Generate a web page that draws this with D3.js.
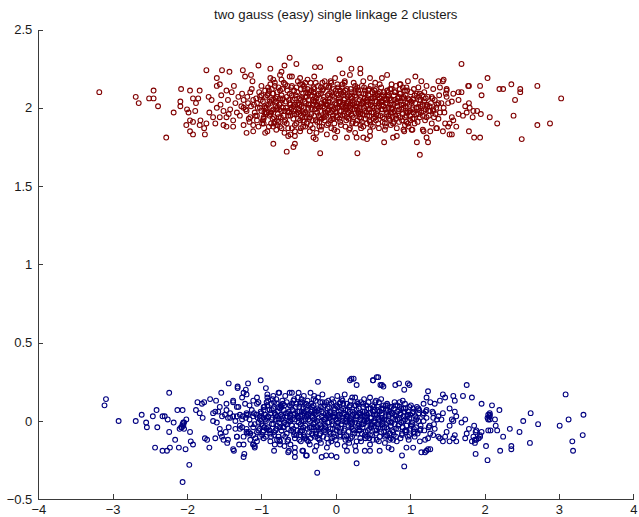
<!DOCTYPE html>
<html>
<head>
<meta charset="utf-8">
<script src="https://cdn.jsdelivr.net/npm/d3@7"></script>
<style>
  html, body { margin: 0; padding: 0; background: #fff; }
  svg { display: block; }
  .axis text { font-family: "Liberation Sans", Arial, Helvetica, sans-serif; font-size: 13px; fill: #1a1a1a; }
  .axis path, .axis line { stroke: #3a3a3a; stroke-width: 1; shape-rendering: crispEdges; }
  .title { font-family: "Liberation Sans", Arial, Helvetica, sans-serif; font-size: 13.2px; fill: #1a1a1a; }
</style>
</head>
<body>
<svg id="chart" width="639" height="517"></svg>
<script>
// Chart title and axis ticks
const titleText = "two gauss (easy) single linkage 2 clusters";
const xTicks = [-4, -3, -2, -1, 0, 1, 2, 3, 4];
const yTicks = [-0.5, 0, 0.5, 1, 1.5, 2, 2.5];
const xDomain = [-4, 4];
const yDomain = [-0.5, 2.5];

// Cluster 1 (upper gaussian), [x, y]
const cluster1 = [
  [-3.18,2.10],[-2.69,2.07],[-2.65,2.03],[-2.45,2.11],[-2.51,2.06],[-2.45,2.06],[-2.39,2.01],[-2.28,1.81],
  [-2.18,1.97],[-2.08,2.12],[-2.09,2.04],[-2.09,2.01],[-1.96,2.11],[-1.83,2.11],[-1.74,2.24],[-1.60,2.19],
  [-1.53,2.24],[-1.43,2.23],[-1.25,2.24],[-1.22,2.20],[-1.14,2.21],[-1.12,2.17],[-1.04,2.27],[-0.88,2.25],
  [-0.84,1.77],[-0.62,2.32],[-0.53,2.28],[-0.73,2.23],[-0.69,2.27],[-0.59,2.20],[-0.28,2.26],[-0.29,2.20],
  [-0.38,2.18],[0.05,2.31],[-0.21,2.26],[0.09,2.22],[0.21,2.25],[0.19,2.21],[0.33,2.25],[0.33,2.22],
  [0.69,2.21],[1.69,2.28],[2.04,2.19],[2.36,2.15],[2.71,2.14],[3.03,2.06],[2.88,1.90],[2.71,1.89],
  [2.50,1.80],[2.39,1.95],[2.41,2.05],[2.48,2.12],[2.48,2.10],[2.20,2.12],[2.25,2.12],[1.94,2.14],
  [1.96,2.08],[1.79,2.14],[2.07,1.94],[2.17,1.90],[1.79,1.85],[1.86,1.81],[1.94,1.81],[1.38,2.17],
  [1.45,2.18],[1.15,2.17],[1.07,2.20],[0.97,2.17],[0.87,2.15],
  [-2.00,1.99],[-1.98,1.97],[-1.89,1.98],[-1.88,2.03],[-1.92,2.06],[-1.85,2.06],[-1.96,1.92],[-2.01,1.89],
  [-1.92,1.91],[-1.82,1.92],[-1.83,1.89],[-1.74,1.90],[-1.96,1.85],[-1.92,1.83],[-1.76,1.83],[-1.77,1.87],
  [-1.65,1.94],[-1.56,1.94],[-1.62,1.90],[-1.51,1.89],[-1.47,1.88],[-1.38,1.88],[-1.20,1.84],[-1.11,1.85],
  [-0.95,1.84],[-1.71,2.07],[-1.67,2.05],[-1.60,2.14],[-1.56,2.15],[-1.47,2.11],[-1.40,2.10],[-1.37,2.14],
  [-1.31,2.07],[-1.24,2.05],[-1.15,2.10],[-1.11,2.05],[-1.06,2.03],[-1.00,2.14],[-0.95,2.11],[-0.88,2.15],
  [-0.84,2.18],[-1.60,2.00],[-1.51,1.98],[-1.42,1.99],[-1.33,1.97],[-1.29,1.95],[-1.24,2.00],[-1.20,1.98],
  [-1.47,1.94],[-1.38,1.92],[-1.15,1.94],[-1.06,1.92],[-0.97,1.94],[-0.88,1.96],[-0.82,1.91],[-1.11,1.89],
  [-1.24,1.89],[-0.93,2.00],[-0.86,2.05],[-0.79,2.07],[-1.02,2.07],[-0.91,2.09],
  [-0.66,1.72],[-0.57,1.75],[-0.55,1.77],[-0.21,1.71],[0.29,1.71],[0.65,1.78],[1.13,1.70],[1.09,1.78],
  [1.22,1.81],[1.24,1.78],[-0.30,1.81],[-0.27,1.80],[-0.01,1.81],[0.15,1.81],[0.28,1.81],[0.37,1.81],
  [0.42,1.80],[0.46,1.82],[0.77,1.81],[0.82,1.82],[0.91,1.86],[1.02,1.86],[1.18,1.85],[1.27,1.85],
  [1.36,1.87],[1.44,1.85],[1.56,1.83],[1.62,1.88],[-0.84,1.88],[-0.97,1.90],[-0.79,1.92],[-0.75,1.88],
  [-0.64,1.82],[-0.59,1.87],[-0.55,1.85],[-0.48,1.85],[-0.44,1.88],[-0.39,1.90],
  [-0.88,2.19],[-0.82,2.16],[-0.75,2.21],[-0.73,2.18],[-0.62,2.20],[-0.48,2.19],[-0.41,2.16],[-0.15,2.17],
  [-0.06,2.16],[-0.01,2.19],[0.12,2.17],[0.24,2.16],[0.37,2.17],[0.46,2.19],[0.53,2.16],[0.62,2.19],
  [0.75,2.15],[0.86,2.15],[0.95,2.13],[1.11,2.13],[1.22,2.14],[1.31,2.12],[1.40,2.13],[1.49,2.11],
  [1.58,2.09],[1.44,2.17],[1.49,2.12],[1.65,2.10],[1.69,2.10],[1.78,2.14],[1.48,2.09],[1.49,2.07],
  [1.56,2.04],[1.51,2.03],[1.42,2.03],[1.40,1.97],[1.74,2.01],[1.79,2.03],[1.80,2.00],[1.85,1.98],
  [1.90,1.98],[1.95,1.96],[1.65,1.96],[1.71,1.95],[1.76,1.97],[1.56,1.94],[1.58,1.92],[1.53,1.90],
  [1.47,1.90],[1.51,1.88],[1.53,1.83],[1.84,1.94],[1.35,1.87],[1.17,1.86],[1.03,1.86],[0.92,1.85],
  [1.65,2.05],[1.04,2.05],[1.13,2.09],[1.00,1.98],[1.22,1.94],[1.31,1.98],[1.38,2.03],[1.29,2.07],[0.95,1.91],
  [-0.91,2.02],[-0.89,1.95],[-0.92,2.08],[-0.90,1.88],[-0.86,2.12],[-0.84,1.99],[-0.85,1.93],[-0.83,2.05],
  [-0.81,2.01],[-0.79,2.10],[-0.80,1.86],[-0.78,1.96],[-0.82,2.14],[-0.76,1.99],[-0.75,2.06],[-0.77,1.91],
  [-0.74,2.03],[-0.72,2.12],[-0.70,1.95],[-0.71,2.00],[-0.69,1.84],[-0.73,2.08],[-0.67,2.04],[-0.66,1.90],
  [-0.68,2.15],[-0.65,1.98],[-0.63,1.97],[-0.62,2.09],[-0.64,1.87],[-0.61,2.02],[-0.60,2.13],[-0.58,2.05],
  [-0.57,1.93],[-0.59,2.00],[-0.56,2.11],[-0.55,1.89],[-0.54,2.08],[-0.53,1.96],[-0.52,2.02],[-0.55,1.82],
  [-0.51,2.17],[-0.50,1.99],[-0.49,2.06],[-0.48,1.92],[-0.47,2.12],[-0.50,2.03],[-0.46,2.01],[-0.45,1.94],
  [-0.44,2.09],[-0.47,1.87],[-0.43,2.14],[-0.45,1.98],[-0.42,2.04],[-0.41,1.97],[-0.40,2.10],[-0.43,1.91],
  [-0.39,2.07],[-0.37,2.00],[-0.36,1.93],[-0.38,2.12],[-0.35,1.85],[-0.37,2.05],[-0.34,2.16],[-0.33,1.96],
  [-0.32,2.08],[-0.31,2.02],[-0.34,1.89],[-0.30,2.13],[-0.29,2.04],[-0.28,1.99],[-0.27,1.92],[-0.30,2.10],
  [-0.26,1.84],[-0.28,2.07],[-0.25,2.01],[-0.24,2.14],[-0.23,1.95],[-0.26,2.06],[-0.22,1.88],[-0.21,1.98],
  [-0.20,2.09],[-0.19,2.03],[-0.22,1.91],[-0.18,2.16],[-0.20,1.86],[-0.17,2.05],[-0.16,1.94],[-0.15,2.00],
  [-0.18,2.11],[-0.14,1.97],[-0.13,2.02],[-0.12,1.89],[-0.11,2.08],[-0.14,1.96],[-0.10,2.13],[-0.12,1.83],
  [-0.09,1.99],[-0.08,2.06],[-0.07,1.92],[-0.10,2.04],[-0.06,2.10],[-0.05,2.01],[-0.04,1.95],[-0.03,2.12],
  [-0.06,1.87],[-0.02,2.07],[-0.04,1.98],[-0.01,2.03],[0.00,1.97],[0.01,2.09],[-0.02,1.90],[0.02,2.15],
  [0.03,2.00],[0.04,2.06],[0.05,1.93],[0.02,1.85],[0.06,2.11],[0.04,2.04],[0.07,1.98],[0.08,2.13],
  [0.09,2.02],[0.06,1.91],[0.10,2.08],[0.11,2.05],[0.12,1.95],[0.13,1.88],[0.10,2.10],[0.14,2.01],
  [0.12,2.16],[0.15,1.99],[0.16,2.07],[0.17,1.93],[0.14,2.03],[0.18,1.86],[0.19,2.02],[0.20,2.12],
  [0.21,1.96],[0.18,2.08],[0.22,1.90],[0.20,2.00],[0.23,2.04],[0.24,1.94],[0.25,2.10],[0.22,1.99],
  [0.26,1.84],[0.27,2.01],[0.28,2.07],[0.29,1.92],[0.26,2.14],[0.30,1.97],[0.31,1.98],[0.32,2.05],
  [0.33,1.89],[0.30,2.11],[0.34,2.02],[0.32,1.94],[0.35,2.03],[0.36,1.96],[0.37,2.09],[0.34,1.87],
  [0.38,2.00],[0.39,2.06],[0.40,1.93],[0.41,2.01],[0.38,2.13],[0.42,1.90],[0.43,1.99],[0.44,2.08],
  [0.45,1.95],[0.42,2.04],[0.46,1.85],[0.44,2.11],[0.47,2.02],[0.48,1.97],[0.49,2.10],[0.46,1.91],
  [0.50,2.06],[0.51,2.00],[0.52,2.07],[0.53,1.94],[0.50,1.88],[0.54,2.12],[0.55,2.04],[0.56,1.98],
  [0.57,2.09],[0.54,1.92],[0.58,2.01],[0.59,2.06],[0.60,1.95],[0.61,2.13],[0.58,1.87],[0.62,2.02],
  [0.63,1.99],[0.64,2.08],[0.65,1.93],[0.62,2.04],[0.66,1.90],[0.67,2.03],[0.68,1.96],[0.69,2.11],
  [0.66,1.86],[0.70,2.07],[0.71,2.00],[0.72,2.06],[0.73,1.92],[0.70,2.10],[0.74,1.97],[0.75,2.05],
  [0.76,1.94],[0.77,2.02],[0.74,1.89],[0.78,2.08],[0.79,1.98],[0.80,2.10],[0.81,2.03],[0.78,1.91],
  [0.83,2.01],[0.84,1.95],[0.85,2.07],[0.82,1.87],[0.86,2.12],[0.87,2.04],[0.88,1.99],[0.89,1.92],
  [0.86,2.09],[0.91,2.00],[0.92,2.06],[0.93,1.94],[0.90,2.13],[0.95,1.97],[0.96,2.03],[0.97,1.90],
  [0.94,2.08],[0.99,2.02],[1.00,1.95],[1.01,2.10],[0.98,1.88],[1.03,1.99],[1.04,2.06],[1.05,1.93],
  [1.07,2.03],[1.08,1.96],[1.09,2.09],[1.06,1.90],[1.11,2.00],[1.12,2.05],[1.13,1.94],[1.15,1.97],
  [1.16,2.08],[1.17,2.02],[1.19,2.04],[1.20,1.92],[1.21,1.99],[1.23,2.01],[1.24,2.07],[1.25,1.95],
  [1.27,1.98],[1.28,2.03],[1.29,1.90],[1.33,2.05],[1.34,1.96],[1.35,2.00],[1.38,1.93],[1.39,2.08],
  [1.45,2.00],[1.46,1.97],[-0.95,2.00],[-0.96,1.97],[-1.00,1.98],[-1.01,2.05],[-0.99,1.90],[-1.05,2.00],
  [-1.06,1.95],[-1.10,2.02],[-1.09,1.97],[-1.18,2.03],[-1.17,1.93],[-1.27,2.01],[-1.26,2.09],[-1.35,2.03],
  [-1.45,2.05],[-1.44,1.96],[-1.55,2.02],[-1.54,2.08],[-1.70,1.97],
  [-1.21,1.99],[-1.19,2.07],[-1.16,1.91],[-1.14,2.01],[-1.13,2.12],[-1.08,1.95],[-1.07,2.06],[-1.04,1.88],
  [-1.03,2.10],[-1.02,2.00],[-0.98,2.04],[-0.97,1.93],[-0.94,2.07],[-0.93,1.97],[-0.92,1.85],[-0.90,2.11],
  [-0.88,2.03],[-0.87,1.90],[-0.86,1.98],[-0.84,2.09],[-0.83,1.94],[-0.81,2.06],[-0.80,1.99],[-0.79,1.89],
  [-0.77,2.13],[-0.76,2.02],[-0.74,1.94],[-0.73,1.87],[-0.72,2.05],[-0.70,2.16],[-0.69,1.98],[-0.68,1.92],
  [-0.66,2.07],[-0.65,2.11],[-0.64,1.95],[-0.62,2.03],[-0.61,1.83],[-0.60,1.99],[-0.59,2.14],[-0.57,2.01],
  [-0.56,1.96],[-0.55,2.06],[-0.53,1.90],[-0.52,2.10],[-0.51,1.97],[-0.49,2.02],[-0.48,2.15],[-0.47,1.95],
  [-0.46,2.07],[-0.44,1.92],[-0.43,2.00],[-0.42,2.12],[-0.41,1.88],[-0.40,2.03],[-0.38,1.96],[-0.37,2.09],
  [-0.36,2.02],[-0.35,1.94],[-0.33,2.11],[-0.32,1.99],[-0.31,1.87],[-0.30,2.05],[-0.29,1.95],[-0.27,2.16],
  [-0.26,2.02],[-0.25,1.91],[-0.24,2.08],[-0.23,2.00],[-0.21,1.94],[-0.20,2.13],[-0.19,1.88],[-0.17,2.01],
  [-0.16,2.07],[-0.15,1.92],[-0.14,2.04],[-0.13,2.14],[-0.11,1.98],[-0.10,1.90],[-0.09,2.09],[-0.08,2.01],
  [-0.07,2.17],[-0.05,1.93],[-0.04,2.05],[-0.03,1.99],[-0.02,1.86],[0.00,2.11],[0.01,2.02],[0.02,1.94],
  [0.03,2.08],[0.05,1.98],[0.06,2.04],[0.07,1.89],[0.08,2.01],[0.09,2.15],[0.11,1.96],[0.12,2.06],
  [0.13,2.00],[0.14,1.92],[0.15,2.12],[0.16,2.03],[0.17,1.97],[0.19,1.87],[0.20,2.07],[0.21,2.10],
  [0.22,1.95],[0.23,2.02],[0.25,1.99],[0.26,2.08],[0.27,1.90],[0.28,2.03],[0.29,2.13],[0.31,1.96],
  [0.32,2.00],[0.33,2.07],[0.34,1.93],[0.35,2.14],[0.36,2.04],[0.37,1.88],[0.39,1.98],[0.40,2.09],
  [0.41,2.05],[0.42,1.95],[0.43,2.02],[0.45,2.12],[0.46,1.99],[0.47,1.89],[0.48,2.06],[0.49,2.01],
  [0.51,1.93],[0.52,2.11],[0.53,2.04],[0.55,1.96],[0.56,2.08],[0.57,1.90],[0.58,2.03],[0.59,2.15],
  [0.61,1.99],[0.62,2.07],[0.63,1.94],[0.64,2.01],[0.65,2.10],[0.67,1.88],[0.68,2.05],[0.69,1.97],
  [0.71,2.08],[0.72,1.93],[0.73,2.02],[0.75,2.12],[0.76,1.99],[0.77,1.90],[0.79,2.05],[0.80,1.95],
  [0.81,2.14],[0.83,2.06],[0.84,1.98],[0.85,1.91],[0.87,2.09],[0.88,2.02],[0.90,1.96],[0.91,2.07],
  [0.93,1.89],[0.94,2.01],[0.96,2.11],[0.97,1.97],[0.99,2.05],[1.00,1.92],[1.02,2.03],[1.04,1.97],
  [1.05,2.12],[1.08,2.00],[1.10,1.91],[1.12,2.07],[1.14,2.01],[1.17,1.95],[1.19,2.10],[1.22,2.02],
  [1.25,1.98],[1.30,2.06],[1.32,1.94],[1.36,2.02],
  [-1.00,2.08],[-0.98,1.92],[-0.96,2.01],[-0.94,1.96],[-0.91,2.13],[-0.89,2.04],[-0.87,1.97],[-0.85,2.09],
  [-0.83,1.90],[-0.81,2.04],[-0.79,2.00],[-0.77,1.94],[-0.75,2.11],[-0.73,1.98],[-0.71,2.06],[-0.69,1.91],
  [-0.67,2.00],[-0.65,2.14],[-0.63,2.05],[-0.61,1.95],[-0.59,2.08],[-0.57,1.98],[-0.55,2.02],[-0.53,2.13],
  [-0.51,1.93],[-0.49,1.98],[-0.47,2.05],[-0.45,2.15],[-0.43,1.96],[-0.41,2.07],[-0.39,1.94],[-0.37,2.02],
  [-0.35,2.10],[-0.33,2.00],[-0.31,1.92],[-0.29,2.12],[-0.27,2.04],[-0.25,1.97],[-0.23,2.09],[-0.21,2.01],
  [-0.19,1.93],[-0.17,2.12],[-0.15,2.04],[-0.13,1.95],[-0.11,2.02],[-0.09,2.14],[-0.07,1.97],[-0.05,2.08],
  [-0.03,1.93],[-0.01,2.00],[0.01,1.95],[0.03,2.13],[0.05,2.03],[0.07,2.09],[0.09,1.95],[0.11,2.00],
  [0.13,2.11],[0.15,1.94],[0.17,2.04],[0.19,1.98],[0.21,2.06],[0.23,1.91],[0.25,2.03],[0.27,2.12],
  [0.29,1.99],[0.31,2.09],[0.33,1.96],[0.35,1.91],[0.37,2.03],[0.39,2.11],[0.41,1.97],[0.43,2.06],
  [0.45,1.92],[0.47,2.14],[0.49,2.04],[0.51,1.97],[0.53,2.09],[0.55,2.00],[0.57,1.95],[0.59,2.10],
  [0.61,2.04],[0.63,1.91],[0.65,2.06],[0.67,1.99],[0.69,2.03],[0.71,1.95],[0.73,2.12],[0.75,2.00],
  [0.77,1.97],[0.79,2.10],[0.81,1.93],[0.83,2.04],[0.85,1.99],[0.87,1.94],[0.89,2.06],[0.91,2.02],
  [0.93,2.11],[0.95,1.95],[0.97,2.06],[0.99,1.98],[1.01,2.04],[1.03,1.93],[1.06,2.08],[1.09,2.00],
  [1.11,1.96],[1.14,2.05],[1.18,1.98],[1.21,2.06],[1.26,2.01],[1.31,1.99]
];

// Cluster 2 (lower gaussian), [x, y]
const cluster2 = [
  [-3.09,0.14],[-3.11,0.10],[-2.92,0.00],[-2.69,0.00],[-2.61,0.04],[-2.55,-0.01],[-2.54,-0.04],[-2.46,0.03],
  [-2.41,0.07],[-2.40,-0.04],[-2.43,-0.17],[-2.33,-0.19],[-2.27,-0.19],[-2.23,-0.17],[-2.33,0.03],[-2.30,0.03],
  [-2.26,0.01],[-2.24,0.18],[-2.24,-0.07],[-2.18,-0.01],[-2.16,-0.12],[-2.13,0.07],[-2.06,0.07],[-2.11,-0.17],
  [-2.02,-0.18],[-2.08,-0.04],[-2.05,-0.03],[-2.04,-0.01],[-2.06,-0.02],[-2.01,0.01],[-1.96,-0.07],[-1.97,-0.28],
  [-2.06,-0.39],[-1.95,-0.13],[-1.92,-0.15],[-2.05,-0.01],[-2.07,-0.04],[-2.04,-0.05],[-2.10,-0.05],
  [-1.88,0.07],[-1.86,0.12],[-1.83,0.05],[-1.80,0.11],[-1.79,0.02],[-1.77,0.12],[-1.76,-0.11],[-1.73,-0.12],
  [-1.70,-0.17],[-1.65,0.05],[-1.65,0.00],[-1.62,0.06],[-1.60,-0.01],[-1.61,0.13],[-1.62,-0.11],[-1.55,-0.08],
  [-1.54,0.18],[-1.56,0.09],[-1.45,-0.12],[-1.38,-0.18],[-1.35,-0.05],[-1.32,0.21],[-1.44,0.24],[-1.24,0.18],
  [-1.18,0.24],[-1.21,0.20],[-1.20,0.17],[-1.23,-0.21],[-1.24,-0.23],[-1.01,0.26],[-0.94,0.21],[-0.92,0.17],
  [-0.83,-0.19],[-0.63,-0.19],[-0.55,-0.20],[-0.55,-0.23],[-0.44,-0.19],[-0.40,-0.22],[-0.25,-0.33],[-0.24,0.25],
  [-1.47,0.07],[-1.42,0.02],[-1.38,0.03],[-1.29,0.04],[-1.20,0.05],[-1.18,0.04],[-1.29,-0.03],[-1.33,-0.10],
  [-1.20,-0.07],[-1.11,-0.04],[-1.11,-0.09],[-1.11,-0.15],[-1.09,-0.17],[-1.02,-0.10],[-0.93,-0.05],[-0.88,-0.08],
  [-0.86,0.01],[-0.79,-0.12],[-0.75,-0.15],[-0.71,-0.04],[-0.66,0.03],[-0.62,0.18],[-0.57,0.13],[-0.50,0.18],
  [-0.48,0.11],[-0.46,0.06],[-0.39,0.03],[-0.32,0.07],[-0.30,-0.04],[-0.28,-0.10],[-0.39,-0.12],[-0.48,-0.07],
  [-1.06,0.15],[-0.97,0.09],[-0.91,0.13],[-0.77,0.18],[-0.71,0.11],[-0.82,0.05],[-0.97,0.02],[-1.04,-0.01],
  [-1.38,0.13],[-1.31,0.09],[-1.53,0.03],[-1.69,0.14],[-1.32,0.22],[-1.53,-0.10],[-1.48,-0.07],[-1.51,-0.12],
  [-1.46,-0.14],[-1.37,-0.19],[-1.30,-0.15],[-1.24,-0.15],[-1.47,0.11],[-1.38,0.12],[-1.33,0.09],[-1.26,0.15],
  [-1.22,0.11],[-1.11,0.13],[-1.06,0.11],[-0.93,0.12],[-1.49,0.04],[-1.42,0.05],[-1.33,0.03],[-1.26,0.01],
  [-1.20,0.04],[-1.11,0.03],[-1.02,0.01],[-0.95,0.04],[-1.29,-0.05],[-1.20,-0.05],[-1.15,-0.08],[-1.06,-0.07],
  [-0.97,-0.06],[-1.33,-0.10],[-1.24,-0.10],[-1.15,-0.12],[-1.06,-0.13],[-0.97,-0.11],
  [0.28,-0.27],[0.92,-0.29],[0.21,0.27],[0.24,0.27],[0.50,0.26],[0.57,0.28],[0.28,0.23],[0.60,0.23],
  [0.64,0.22],[0.80,0.23],[0.85,0.24],[0.97,0.24],[0.99,0.23],[1.76,0.23],[3.09,0.17],[3.33,0.04],
  [3.13,0.01],[3.01,-0.03],[3.32,-0.09],[3.18,-0.13],[3.19,-0.19],[2.72,-0.02],[2.62,0.05],[2.61,-0.14],
  [2.52,0.00],[2.47,-0.07],[2.34,-0.05],[2.36,-0.16],[2.36,-0.18],[2.25,-0.10],[2.21,-0.19],[2.20,0.07],
  [2.10,0.10],[1.96,0.11],[1.83,0.15],[1.71,0.16],[2.04,-0.25],[1.88,-0.21],[2.02,-0.16],[2.05,0.04],
  [2.07,0.04],[2.04,0.02],[2.07,0.01],[2.15,-0.03],[2.17,-0.06],[2.08,-0.06],[2.05,-0.06],[1.96,-0.07],
  [1.89,-0.06],[1.94,-0.09],[1.89,-0.12],[1.87,-0.14],[1.83,-0.13],[2.14,0.01],[2.07,0.03],[2.05,0.01],
  [2.07,0.05],[1.94,-0.10],[1.92,-0.11],[1.87,-0.12],[1.85,-0.10],[1.88,-0.07],[1.86,-0.03],[1.79,-0.05],
  [1.76,-0.08],[1.74,-0.11],[1.69,-0.01],[1.74,0.01],[1.58,0.16],[1.60,0.13],[1.44,0.17],[1.47,0.15],
  [1.40,0.13],[1.33,0.11],[1.27,0.12],[1.22,0.15],[1.24,0.19],[1.18,0.11],[1.53,0.08],[1.60,0.06],
  [1.62,0.03],[1.56,0.01],[1.53,-0.03],[1.58,0.00],[1.44,0.05],[1.42,0.01],[1.38,0.03],[1.31,0.05],
  [1.22,0.07],[1.18,0.05],[1.33,-0.05],[1.31,-0.09],[1.38,-0.10],[1.27,-0.08],[1.24,-0.11],[1.49,-0.07],
  [1.47,-0.10],[1.60,-0.09],[1.58,-0.11],[1.62,-0.13],[1.53,-0.13],[1.44,-0.13],[1.40,-0.11],[1.22,-0.19],
  [1.27,-0.18],[1.15,-0.20],[1.20,-0.12],
  [0.19,0.26],[0.55,0.28],[0.50,0.26],[0.62,0.23],[0.92,0.20],[-0.84,0.16],[-0.76,0.18],[-0.59,0.18],
  [-0.75,-0.13],[-0.64,-0.20],[-0.45,-0.19],[-0.39,-0.22],[-0.28,-0.19],[-0.19,-0.23],[-0.13,-0.22],[-0.06,-0.22],
  [0.01,-0.23],[0.12,-0.16],[0.15,-0.19],[0.27,-0.19],[0.39,-0.19],[0.46,-0.19],[0.59,-0.19],[0.71,-0.17],
  [0.75,-0.18],[0.89,-0.22],[0.95,-0.17],[1.04,-0.17],[1.13,-0.13],[1.20,-0.20],[1.24,-0.18],[-1.11,-0.15],
  [-1.09,-0.16],
  [-0.91,0.03],[-0.89,-0.06],[-0.92,0.10],[-0.88,-0.13],[-0.86,0.07],[-0.84,-0.02],[-0.85,0.14],[-0.83,-0.09],
  [-0.81,0.01],[-0.79,0.11],[-0.80,-0.05],[-0.78,0.06],[-0.82,-0.15],[-0.76,-0.01],[-0.75,0.08],[-0.77,-0.10],
  [-0.74,0.04],[-0.72,0.13],[-0.70,-0.04],[-0.71,0.02],[-0.69,-0.16],[-0.73,0.09],[-0.67,0.05],[-0.66,-0.08],
  [-0.68,0.16],[-0.65,-0.02],[-0.63,0.00],[-0.62,0.10],[-0.64,-0.12],[-0.61,0.04],[-0.60,-0.06],[-0.58,0.07],
  [-0.57,-0.07],[-0.59,0.01],[-0.56,0.14],[-0.55,-0.11],[-0.54,0.09],[-0.53,-0.03],[-0.52,0.03],[-0.55,-0.17],
  [-0.51,0.15],[-0.50,-0.01],[-0.49,0.06],[-0.48,-0.09],[-0.47,0.12],[-0.50,0.02],[-0.46,0.00],[-0.45,-0.06],
  [-0.44,0.08],[-0.47,-0.13],[-0.43,0.16],[-0.45,0.04],[-0.42,0.05],[-0.41,-0.03],[-0.40,0.11],[-0.43,-0.09],
  [-0.39,0.07],[-0.37,0.01],[-0.36,-0.07],[-0.38,0.13],[-0.35,-0.15],[-0.37,0.04],[-0.34,0.18],[-0.33,-0.04],
  [-0.32,0.09],[-0.31,0.02],[-0.34,-0.11],[-0.30,0.14],[-0.29,0.05],[-0.28,-0.01],[-0.27,-0.08],[-0.30,0.10],
  [-0.26,-0.16],[-0.28,0.07],[-0.25,0.00],[-0.24,0.15],[-0.23,-0.05],[-0.26,0.06],[-0.22,-0.12],[-0.21,-0.02],
  [-0.20,0.09],[-0.19,0.03],[-0.22,-0.09],[-0.18,0.17],[-0.20,-0.14],[-0.17,0.05],[-0.16,-0.06],[-0.15,0.01],
  [-0.18,0.12],[-0.14,-0.03],[-0.13,0.02],[-0.12,-0.11],[-0.11,0.08],[-0.14,-0.04],[-0.10,0.13],[-0.12,-0.17],
  [-0.09,-0.01],[-0.08,0.06],[-0.07,-0.08],[-0.10,0.04],[-0.06,0.11],[-0.05,0.00],[-0.04,-0.05],[-0.03,0.12],
  [-0.06,-0.13],[-0.02,0.07],[-0.04,-0.02],[-0.01,0.03],[0.00,-0.03],[0.01,0.10],[-0.02,-0.10],[0.02,0.16],
  [0.03,-0.01],[0.04,0.06],[0.05,-0.07],[0.02,-0.15],[0.06,0.12],[0.04,0.04],[0.07,-0.02],[0.08,0.14],
  [0.09,0.02],[0.06,-0.09],[0.10,0.08],[0.11,0.05],[0.12,-0.05],[0.13,-0.12],[0.10,0.11],[0.14,0.01],
  [0.12,0.17],[0.15,-0.01],[0.16,0.07],[0.17,-0.07],[0.14,0.03],[0.18,-0.14],[0.19,0.02],[0.20,0.13],
  [0.21,-0.04],[0.18,0.09],[0.22,-0.10],[0.20,0.00],[0.23,0.04],[0.24,-0.06],[0.25,0.10],[0.22,-0.01],
  [0.26,-0.16],[0.27,0.01],[0.28,0.07],[0.29,-0.08],[0.26,0.15],[0.30,-0.03],[0.31,-0.02],[0.32,0.05],
  [0.33,-0.11],[0.30,0.11],[0.34,0.02],[0.32,-0.06],[0.35,0.03],[0.36,-0.04],[0.37,0.09],[0.34,-0.13],
  [0.38,0.00],[0.39,0.06],[0.40,-0.07],[0.41,0.01],[0.38,0.14],[0.42,-0.10],[0.43,-0.01],[0.44,0.08],
  [0.45,-0.05],[0.42,0.04],[0.46,-0.15],[0.44,0.12],[0.47,0.02],[0.48,-0.03],[0.49,0.10],[0.46,-0.09],
  [0.50,0.06],[0.51,0.00],[0.52,0.07],[0.53,-0.06],[0.50,-0.12],[0.54,0.13],[0.55,0.04],[0.56,-0.02],
  [0.57,0.09],[0.54,-0.08],[0.58,0.01],[0.59,0.06],[0.60,-0.05],[0.61,0.14],[0.58,-0.13],[0.62,0.02],
  [0.63,-0.01],[0.64,0.08],[0.65,-0.07],[0.62,0.04],[0.66,-0.10],[0.67,0.03],[0.68,-0.04],[0.69,0.11],
  [0.66,-0.14],[0.70,0.07],[0.71,0.00],[0.72,0.06],[0.73,-0.08],[0.70,0.10],[0.74,-0.03],[0.75,0.05],
  [0.76,-0.06],[0.77,0.02],[0.74,-0.11],[0.78,0.08],[0.79,-0.02],[0.80,0.10],[0.81,0.03],[0.78,-0.09],
  [0.83,0.01],[0.84,-0.05],[0.85,0.07],[0.82,-0.13],[0.86,0.12],[0.87,0.04],[0.88,-0.01],[0.89,-0.08],
  [0.86,0.09],[0.91,0.00],[0.92,0.06],[0.93,-0.06],[0.90,0.13],[0.95,-0.03],[0.96,0.03],[0.97,-0.10],
  [0.94,0.08],[0.99,0.02],[1.00,-0.05],[1.01,0.10],[0.98,-0.12],[1.03,-0.01],[1.04,0.06],[1.05,-0.07],
  [1.07,0.03],[1.08,-0.04],[1.09,0.09],[1.06,-0.10],[1.11,0.00],[1.12,0.05],[1.13,-0.06],[-0.95,0.01],
  [-0.96,-0.04],[-1.00,-0.02],[-1.01,0.06],[-0.99,-0.09],[-1.05,0.02],[-1.04,-0.06],[-1.10,0.05],[-1.09,-0.02],
  [-1.16,0.01],[-1.17,-0.07],[-1.25,0.03],[-1.26,-0.04],[-1.35,0.00],[-1.45,0.02],[-1.44,-0.04],[-1.56,-0.05],
  [-1.58,0.06],
  [-1.21,0.02],[-1.19,-0.08],[-1.16,0.10],[-1.14,-0.02],[-1.13,0.07],[-1.08,-0.11],[-1.07,0.04],[-1.04,0.12],
  [-1.03,-0.05],[-1.02,0.03],[-0.98,-0.03],[-0.97,0.07],[-0.94,-0.10],[-0.93,0.02],[-0.92,0.15],[-0.90,-0.06],
  [-0.88,0.05],[-0.87,0.11],[-0.86,-0.02],[-0.84,0.08],[-0.83,-0.07],[-0.81,0.04],[-0.80,0.14],[-0.79,-0.03],
  [-0.77,0.01],[-0.76,-0.12],[-0.74,0.10],[-0.73,-0.06],[-0.72,0.03],[-0.70,0.07],[-0.69,-0.01],[-0.68,-0.10],
  [-0.66,0.12],[-0.65,0.05],[-0.64,-0.05],[-0.62,0.02],[-0.61,-0.15],[-0.60,0.09],[-0.59,-0.03],[-0.57,0.04],
  [-0.56,-0.09],[-0.55,0.01],[-0.53,0.11],[-0.52,-0.06],[-0.51,0.06],[-0.49,-0.12],[-0.48,0.03],[-0.47,-0.02],
  [-0.46,0.14],[-0.44,-0.04],[-0.43,0.06],[-0.42,-0.10],[-0.41,0.01],[-0.40,0.09],[-0.38,-0.05],[-0.37,-0.13],
  [-0.36,0.05],[-0.35,0.00],[-0.33,0.11],[-0.32,-0.08],[-0.31,0.03],[-0.30,-0.02],[-0.29,0.16],[-0.27,0.04],
  [-0.26,-0.06],[-0.25,0.08],[-0.24,-0.11],[-0.23,0.02],[-0.21,0.12],[-0.20,-0.04],[-0.19,0.06],[-0.17,-0.10],
  [-0.16,0.01],[-0.15,0.10],[-0.14,-0.07],[-0.13,0.05],[-0.11,-0.01],[-0.10,-0.14],[-0.09,0.09],[-0.08,0.02],
  [-0.07,-0.05],[-0.05,0.14],[-0.04,0.03],[-0.03,-0.08],[-0.02,0.05],[0.00,-0.12],[0.01,0.01],[0.02,0.09],
  [0.03,-0.04],[0.05,0.02],[0.06,-0.10],[0.07,0.07],[0.08,-0.02],[0.09,0.13],[0.11,-0.06],[0.12,0.04],
  [0.13,0.00],[0.14,-0.09],[0.15,0.11],[0.16,0.03],[0.17,-0.03],[0.19,0.06],[0.20,-0.11],[0.21,0.01],
  [0.22,0.15],[0.23,-0.05],[0.25,0.05],[0.26,-0.01],[0.27,0.10],[0.28,-0.13],[0.29,0.03],[0.31,0.08],
  [0.32,-0.04],[0.33,0.01],[0.34,0.12],[0.35,-0.08],[0.36,0.06],[0.37,-0.02],[0.39,0.03],[0.40,-0.11],
  [0.41,0.10],[0.42,0.00],[0.43,-0.06],[0.45,0.05],[0.46,0.15],[0.47,-0.04],[0.48,0.02],[0.49,-0.09],
  [0.51,0.09],[0.52,-0.01],[0.53,0.04],[0.55,-0.12],[0.56,0.07],[0.57,-0.04],[0.58,0.12],[0.59,0.00],
  [0.61,-0.07],[0.62,0.05],[0.63,-0.02],[0.64,0.10],[0.65,0.01],[0.67,-0.09],[0.68,0.07],[0.69,-0.05],
  [0.71,0.03],[0.72,-0.12],[0.73,0.09],[0.75,-0.01],[0.76,0.05],[0.77,-0.07],[0.79,0.12],[0.80,0.01],
  [0.81,-0.10],[0.83,0.06],[0.84,-0.03],[0.85,0.02],[0.87,-0.11],[0.88,0.08],[0.90,-0.04],[0.91,0.03],
  [0.93,0.11],[0.94,-0.07],[0.96,0.00],[0.97,0.06],[0.99,-0.09],[1.00,0.04],[1.02,-0.02],[1.04,0.08],
  [1.05,-0.05],[1.08,0.01],[1.10,-0.08],[1.12,0.07],[1.14,-0.03],[1.17,0.04],[1.19,-0.06],[1.22,0.02],
  [1.25,-0.04],[1.30,0.06],[1.32,-0.02],[1.36,0.01],
  [-1.00,0.05],[-0.98,-0.07],[-0.96,0.09],[-0.94,0.00],[-0.91,-0.04],[-0.89,0.07],[-0.87,-0.10],[-0.85,0.02],
  [-0.83,0.12],[-0.81,-0.06],[-0.79,0.03],[-0.77,0.09],[-0.75,-0.04],[-0.73,0.01],[-0.71,-0.09],[-0.69,0.10],
  [-0.67,-0.02],[-0.65,-0.13],[-0.63,0.06],[-0.61,0.00],[-0.59,0.11],[-0.57,-0.05],[-0.55,0.05],[-0.53,-0.09],
  [-0.51,0.02],[-0.49,0.09],[-0.47,-0.06],[-0.45,0.12],[-0.43,0.00],[-0.41,-0.11],[-0.39,0.04],[-0.37,0.10],
  [-0.35,-0.04],[-0.33,0.06],[-0.31,-0.09],[-0.29,0.01],[-0.27,0.13],[-0.25,-0.04],[-0.23,0.07],[-0.21,-0.08],
  [-0.19,0.00],[-0.17,0.09],[-0.15,-0.05],[-0.13,0.12],[-0.11,0.03],[-0.09,-0.07],[-0.07,0.05],[-0.05,-0.11],
  [-0.03,0.02],[-0.01,0.08],[0.01,-0.06],[0.03,0.03],[0.05,0.11],[0.07,-0.05],[0.09,0.00],[0.11,-0.10],
  [0.13,0.07],[0.15,0.03],[0.17,-0.12],[0.19,0.10],[0.21,-0.02],[0.23,0.06],[0.25,-0.08],[0.27,0.03],
  [0.29,0.12],[0.31,-0.06],[0.33,0.04],[0.35,-0.02],[0.37,0.11],[0.39,-0.09],[0.41,0.05],[0.43,0.00],
  [0.45,-0.11],[0.47,0.08],[0.49,-0.02],[0.51,0.04],[0.53,0.12],[0.55,-0.06],[0.57,0.02],[0.59,-0.10],
  [0.61,0.08],[0.63,0.00],[0.65,-0.04],[0.67,0.10],[0.69,-0.09],[0.71,0.04],[0.73,-0.01],[0.75,0.09],
  [0.77,-0.12],[0.79,0.04],[0.81,-0.05],[0.83,0.10],[0.85,-0.02],[0.87,0.05],[0.89,-0.09],[0.91,0.08],
  [0.93,0.01],[0.95,-0.06],[0.97,0.04],[0.99,0.09],[1.01,-0.03],[1.03,0.05],[1.06,-0.08],[1.09,0.02],
  [1.11,0.08],[1.14,-0.05],[1.18,0.00],[1.21,0.06],[1.26,-0.03],[1.31,0.02]
];

const series = [
  { points: cluster1, color: "#800000" },
  { points: cluster2, color: "#000080" }
];

const width = 639, height = 517;
const margin = { left: 38.3, right: 5.7, top: 29.5, bottom: 17.7 };

const svg = d3.select("#chart");

const x = d3.scaleLinear().domain(xDomain).range([margin.left, width - margin.right]);
const y = d3.scaleLinear().domain(yDomain).range([height - margin.bottom, margin.top]);

// Markers: open circles
series.forEach(s => {
  svg.append("g")
    .selectAll("circle")
    .data(s.points)
    .join("circle")
      .attr("cx", d => x(d[0]))
      .attr("cy", d => y(d[1]))
      .attr("r", 2.4)
      .attr("fill", "none")
      .attr("stroke", s.color)
      .attr("stroke-width", 1.1);
});

// Axes with inward ticks, no box
const fmt = d => d3.format("")(d).replace("-", "\u2212");

svg.append("g")
  .attr("class", "axis")
  .attr("transform", `translate(0,${y(yDomain[0])})`)
  .call(d3.axisBottom(x).tickValues(xTicks).tickFormat(fmt).tickSizeInner(-5).tickSizeOuter(0).tickPadding(5));

svg.append("g")
  .attr("class", "axis")
  .attr("transform", `translate(${x(xDomain[0])},0)`)
  .call(d3.axisLeft(y).tickValues(yTicks).tickFormat(fmt).tickSizeInner(-5).tickSizeOuter(0).tickPadding(6));

svg.append("text")
  .attr("class", "title")
  .attr("x", x(0))
  .attr("y", 19)
  .attr("text-anchor", "middle")
  .text(titleText);
</script>
</body>
</html>
